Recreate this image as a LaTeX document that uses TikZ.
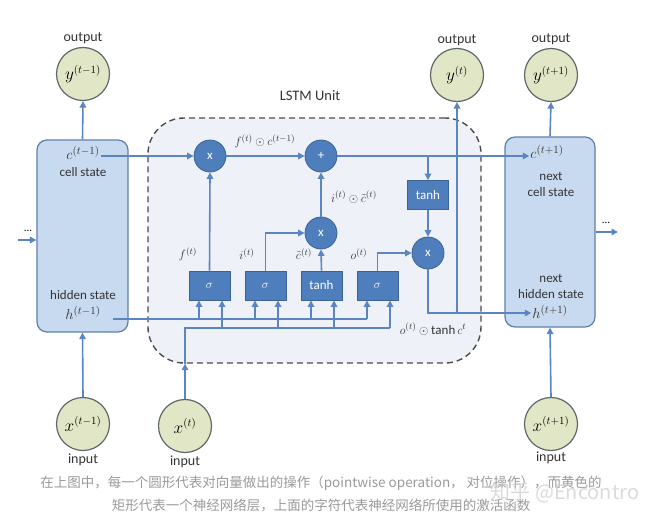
\documentclass[tikz,border=0pt]{standalone}
\usepackage{fontspec}
\setmainfont{Carlito}
\newfontfamily\cjk{Noto Sans CJK SC}
\usetikzlibrary{arrows.meta}

\definecolor{gateblue}{HTML}{4F7EBD}
\definecolor{gateedge}{HTML}{3B6294}
\definecolor{wireblue}{HTML}{5A85C0}
\definecolor{statefill}{HTML}{C8DAF0}
\definecolor{stateedge}{HTML}{5F7FAA}
\definecolor{iofill}{HTML}{E1E7C6}
\definecolor{ioedge}{HTML}{5E6868}
\definecolor{unitfill}{HTML}{EEF2F8}
\definecolor{captiongray}{HTML}{9A9A9A}

\tikzset{
  wire/.style={draw=wireblue, line width=1.6pt},
  gate/.style={fill=gateblue, draw=gateedge, line width=0.8pt, text=white,
    minimum width=41pt, minimum height=29pt, inner sep=0pt,
    font=\fontsize{13}{15}\selectfont},
  pointop/.style={circle, fill=gateblue, draw=gateedge, line width=0.8pt,
    text=white, minimum size=32pt, inner sep=0pt, font=\fontsize{13}{15}\selectfont},
  iocircle/.style={circle, fill=iofill, draw=ioedge, line width=1.2pt,
    minimum size=53pt, inner sep=0pt, font=\fontsize{16}{18}\selectfont},
  statebox/.style={rounded corners=10pt, fill=statefill, draw=stateedge,
    line width=1.2pt, minimum width=#1, minimum height=190pt},
  lbl/.style={font=\fontsize{13}{16}\selectfont, align=center, inner sep=1pt, text=black!80},
  mathlbl/.style={lbl, font=\fontsize{15}{17}\selectfont},
  iolbl/.style={font=\fontsize{14}{16}\selectfont, inner sep=1pt, text=black!80},
}

% one gate layer with its two inputs (hidden state bus, input bus)
\NewDocumentCommand{\gatebox}{mmO{$\sigma$}}{%
\node[gate] (g#1) at (#2,285.5) {#3};%
\path (g#1.south) ++(-10.5,0) coordinate (g#1h) ++(23,0) coordinate (g#1x);%
\draw[wire,->] (g#1h |- hbus) -- (g#1h);%
\draw[wire,->] (g#1x |- xbus) -- (g#1x);%
}

\begin{document}
\begin{tikzpicture}[x=1pt,y=-1pt,>={Triangle[length=6.5pt,width=6.5pt]}]
\useasboundingbox (0,0) rectangle (653,527);

\node[draw=black!70, dashed, dash pattern=on 6pt off 4pt, line width=1.4pt,
  fill=unitfill, rounded corners=36pt, minimum width=333pt, minimum height=245pt]
  (lstm) at (314.5,240.5) {};
\node[font=\fontsize{14.5}{16}\selectfont, text=black!80] (title) at (310,96) {LSTM Unit};

\node[statebox=91pt, minimum height=192pt] (prev) at (82.5,236) {};
\node[statebox=90pt] (next) at (550,232) {};

\node[iocircle] (yprev) at (83,74) {$y^{(t-1)}$};
\node[iocircle] (ycur) at (457,75) {$y^{(t)}$};
\node[iocircle] (ynext) at (551,75) {$y^{(t+1)}$};
\node[iocircle] (xprev) at (83,424) {$x^{(t-1)}$};
\node[iocircle] (xcur) at (185,426) {$x^{(t)}$};
\node[iocircle] (xnext) at (551,424) {$x^{(t+1)}$};
\node[iolbl] (oprev) at (83,38) {output};
\node[iolbl] (ocur) at (457,40) {output};
\node[iolbl] (onext) at (551,39) {output};
\node[iolbl] (iprev) at (83,460) {input};
\node[iolbl] (icur) at (185,462) {input};
\node[iolbl] (inext) at (551,458) {input};

% texts in the state boxes
\node[mathlbl] (cprev) at (83,153) {$c^{(t-1)}$};
\node[lbl] (cslbl) at (83,172) {cell state};
\node[lbl] (hslbl) at (83,295) {hidden state};
\node[mathlbl] (hprev) at (83,313) {$h^{(t-1)}$};
\node[mathlbl] (cnext) at (547,152) {$c^{(t+1)}$};
\node[lbl] (ncslbl) at (551,184) {next\\cell state};
\node[lbl] (nhslbl) at (551,286) {next\\hidden state};
\node[mathlbl] (hnext) at (550,312) {$h^{(t+1)}$};

\coordinate (hbus) at (113,319);
\coordinate (xbus) at (185,328);

\node[pointop] (fg) at (210,156) {x};
\node[pointop] (add) at (321,156) {+};
\node[pointop] (ig) at (321,233) {x};
\node[pointop] (og) at (428,253) {x};
\node[gate] (tc) at (428,195) {tanh};

\gatebox{1}{209.5}
\gatebox{2}{265.5}
\gatebox{3}{321.5}[tanh]
\gatebox{4}{377.5}

% buses
\draw[wire] (hbus) -- (g4h |- hbus);
\draw[wire,->] (xcur.north) -- (xcur |- lstm.south);
\draw[wire] (xcur |- lstm.south) |- (g4x |- xbus);

% cell state
\draw[wire,->] (cprev.east |- fg) -- (fg.west);
\draw[wire,->] (fg) -- (add.west);
\draw[wire,->] (add) -- (cnext.west |- add);
\draw[wire,->] (tc.north |- add) -- (tc.north);
\draw[wire,->] (tc) -- (og.north);

% gates
\draw[wire,->] (g1.north) -- (fg.south);
\draw[wire,->] (g2.north) |- (ig.west);
\draw[wire,->] (g3.north) -- (ig.south);
\draw[wire,->] (ig) -- (add.south);
\draw[wire,->] (g4.north) |- (og.west);
\draw[wire,->] (og.south) |- (hnext.west |- 0,313);
\draw[wire,->] (ycur.south |- 0,313) -- (ycur.south);

% in and out of the state boxes
\draw[wire,->] (prev.north) -- (yprev.south);
\draw[wire,->] (next.north) -- (ynext.south);
\draw[wire,->] (xprev.north) -- (prev.south);
\draw[wire,->] (xnext.north) -- (next.south);
\coordinate (lin) at (18,240);
\coordinate (rout) at (618,232);
\draw[wire,->] (lin) -- (prev.west |- lin);
\draw[wire,->] (next.east |- rout) -- (rout);
\node[font=\fontsize{11}{12}\selectfont] (ldots) at (28,231) {...};
\node[font=\fontsize{11}{12}\selectfont] (rdots) at (606,223) {...};

% gate outputs
\node[lbl] (flbl) at (188,254) {$f^{(t)}$};
\node[lbl] (ilbl) at (247,254) {$i^{(t)}$};
\node[lbl] (clbl) at (304,254) {$\tilde{c}^{(t)}$};
\node[lbl] (olbl) at (359,254) {$o^{(t)}$};
\node[lbl] (fclbl) at (265,141) {$f^{(t)}\odot c^{(t-1)}$};
\node[lbl] (iclbl) at (354,197) {$i^{(t)}\odot\tilde{c}^{(t)}$};
\node[lbl] (oclbl) at (433,329) {$o^{(t)}\odot\tanh c^{t}$};

% caption
\node[font=\cjk\fontsize{13.5}{16}\selectfont, text=captiongray] (cap1) at (321,483)
  {在上图中，每一个圆形代表对向量做出的操作（pointwise operation， 对位操作），而黄色的};
\node[font=\cjk\fontsize{13.5}{16}\selectfont, text=captiongray] (cap2) at (321,505)
  {矩形代表一个神经网络层，上面的字符代表神经网络所使用的激活函数};
\node[font=\cjk\fontsize{20}{22}\selectfont, text=black!18, opacity=0.8] (mark) at (565,493)
  {知乎 @Encontro};
\end{tikzpicture}
\end{document}
